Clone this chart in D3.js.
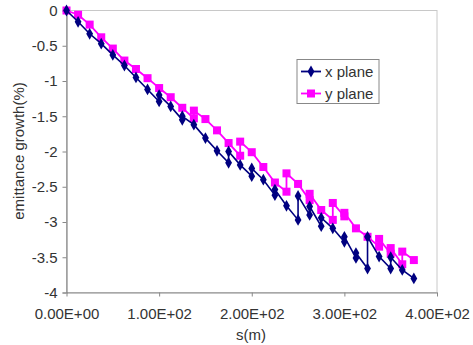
<!DOCTYPE html>
<html>
<head>
<meta charset="utf-8">
<script src="https://cdn.jsdelivr.net/npm/d3@7"></script>
<style>
  html, body { margin: 0; padding: 0; background: #fff; }
  svg { display: block; }
</style>
</head>
<body>
<div id="chart"></div>
<script>
// x plane: s (m) and emittance growth (%)
var xPlaneS = [0, 12.5, 25, 37.5, 50, 62.5, 75, 87.5, 100, 100, 112.5, 125, 125, 137.5, 150, 162.5,
  175, 175, 187.5, 200, 200, 212.5, 225, 225, 237.5, 250, 250, 262.5, 262.5, 275, 275, 287.5,
  300, 300, 312.5, 312.5, 325, 325, 337.5, 350, 350, 362.5, 375];
var xPlaneV = [0, -0.16, -0.33, -0.47, -0.63, -0.78, -0.95, -1.12, -1.29, -1.2, -1.36, -1.55, -1.5, -1.62, -1.81, -1.99,
  -2.16, -2.0, -2.19, -2.35, -2.24, -2.4, -2.62, -2.54, -2.77, -2.97, -2.63, -2.9, -2.78, -3.06, -2.94, -3.09,
  -3.28, -3.21, -3.51, -3.44, -3.66, -3.21, -3.49, -3.66, -3.5, -3.68, -3.8];

// y plane
var yPlaneS = [0, 12.5, 25, 37.5, 50, 62.5, 75, 87.5, 100, 112.5, 125, 137.5, 137.5, 150, 162.5, 175,
  187.5, 187.5, 200, 212.5, 225, 237.5, 237.5, 250, 262.5, 262.5, 275, 287.5, 287.5, 300, 300,
  312.5, 325, 337.5, 337.5, 350, 350, 362.5, 362.5, 375];
var yPlaneV = [0, -0.06, -0.2, -0.38, -0.54, -0.71, -0.83, -0.96, -1.1, -1.23, -1.38, -1.53, -1.42, -1.54, -1.7, -1.88,
  -2.06, -1.86, -2.01, -2.22, -2.44, -2.57, -2.31, -2.46, -2.69, -2.6, -2.83, -2.97, -2.73, -2.92, -2.87,
  -3.09, -3.21, -3.35, -3.24, -3.45, -3.37, -3.6, -3.42, -3.54];

var xTicks = [0, 100, 200, 300, 400];
var xTickLabels = ["0.00E+00", "1.00E+02", "2.00E+02", "3.00E+02", "4.00E+02"];
var yTicks = [0, -0.5, -1, -1.5, -2, -2.5, -3, -3.5, -4];
var seriesNames = ["x plane", "y plane"];

var width = 473, height = 345;
var font = "'Liberation Sans', Arial, sans-serif";
var navy = "#000080", magenta = "#ff00ff";

var svg = d3.select("#chart").append("svg")
  .attr("width", width).attr("height", height);

var x = d3.scaleLinear().domain([0, 400]).range([66.5, 437]);
var y = d3.scaleLinear().domain([-4, 0]).range([292.5, 10.5]);

// plot frame (light top/right)
svg.append("rect")
  .attr("x", x(0)).attr("y", y(0))
  .attr("width", x(400) - x(0)).attr("height", y(-4) - y(0))
  .attr("fill", "none").attr("stroke", "#c8c8c8").attr("stroke-width", 1);

// y axis
var yAxis = d3.axisLeft(y).tickValues(yTicks).tickSize(4).tickFormat(function (d) { return d; });
svg.append("g")
  .attr("transform", "translate(" + x(0) + ",0)")
  .call(yAxis)
  .call(function (g) { g.select(".domain").attr("stroke", "#888").attr("stroke-width", 1.2); })
  .call(function (g) { g.selectAll(".tick line").attr("stroke", "#888"); })
  .call(function (g) {
    g.selectAll(".tick text").attr("font-family", font).attr("font-size", 15)
      .attr("fill", "#333").attr("x", -9);
  });

// x axis
var xAxis = d3.axisBottom(x).tickValues(xTicks).tickSize(4).tickSizeOuter(0)
  .tickFormat(function (d, i) { return xTickLabels[i]; });
svg.append("g")
  .attr("transform", "translate(0," + y(-4) + ")")
  .call(xAxis)
  .call(function (g) { g.select(".domain").attr("stroke", "#888").attr("stroke-width", 1.2); })
  .call(function (g) { g.selectAll(".tick line").attr("stroke", "#888"); })
  .call(function (g) {
    g.selectAll(".tick text").attr("font-family", font).attr("font-size", 15)
      .attr("fill", "#333").attr("y", 16);
  });

// axis titles
svg.append("text")
  .attr("x", 251).attr("y", 340)
  .attr("text-anchor", "middle").attr("font-family", font).attr("font-size", 15).attr("fill", "#333")
  .text("s(m)");
svg.append("text")
  .attr("transform", "translate(24,151) rotate(-90)")
  .attr("text-anchor", "middle").attr("font-family", font).attr("font-size", 15).attr("fill", "#333")
  .text("emittance growth(%)");

var line = d3.line()
  .x(function (d) { return x(d[0]); })
  .y(function (d) { return y(d[1]); });

var xData = d3.zip(xPlaneS, xPlaneV);
var yData = d3.zip(yPlaneS, yPlaneV);

// y plane (drawn first, beneath)
svg.append("path").datum(yData)
  .attr("d", line).attr("fill", "none").attr("stroke", magenta).attr("stroke-width", 1.8);
svg.selectAll(".ym").data(yData).join("rect")
  .attr("class", "ym")
  .attr("x", function (d) { return x(d[0]) - 4; })
  .attr("y", function (d) { return y(d[1]) - 4; })
  .attr("width", 8).attr("height", 8).attr("fill", magenta);

// x plane
svg.append("path").datum(xData)
  .attr("d", line).attr("fill", "none").attr("stroke", navy).attr("stroke-width", 1.6);
var diamond = d3.symbol().type(d3.symbolDiamond).size(40);
svg.selectAll(".xm").data(xData).join("path")
  .attr("class", "xm")
  .attr("transform", function (d) { return "translate(" + x(d[0]) + "," + y(d[1]) + ")"; })
  .attr("d", diamond).attr("fill", navy);

// legend
var lg = svg.append("g");
lg.append("rect")
  .attr("x", 297).attr("y", 59.5).attr("width", 82).attr("height", 44)
  .attr("fill", "#fff").attr("stroke", "#888").attr("stroke-width", 1);
seriesNames.forEach(function (name, i) {
  var cy = 71.5 + i * 22;
  var col = i === 0 ? navy : magenta;
  lg.append("line").attr("x1", 301).attr("x2", 321).attr("y1", cy).attr("y2", cy)
    .attr("stroke", col).attr("stroke-width", 1.8);
  if (i === 0) {
    lg.append("path").attr("transform", "translate(311," + cy + ")").attr("d", diamond).attr("fill", navy);
  } else {
    lg.append("rect").attr("x", 307).attr("y", cy - 4).attr("width", 8).attr("height", 8).attr("fill", magenta);
  }
  lg.append("text").attr("x", 325).attr("y", cy + 5)
    .attr("font-family", font).attr("font-size", 15).attr("fill", "#333")
    .text(name);
});
</script>
</body>
</html>
